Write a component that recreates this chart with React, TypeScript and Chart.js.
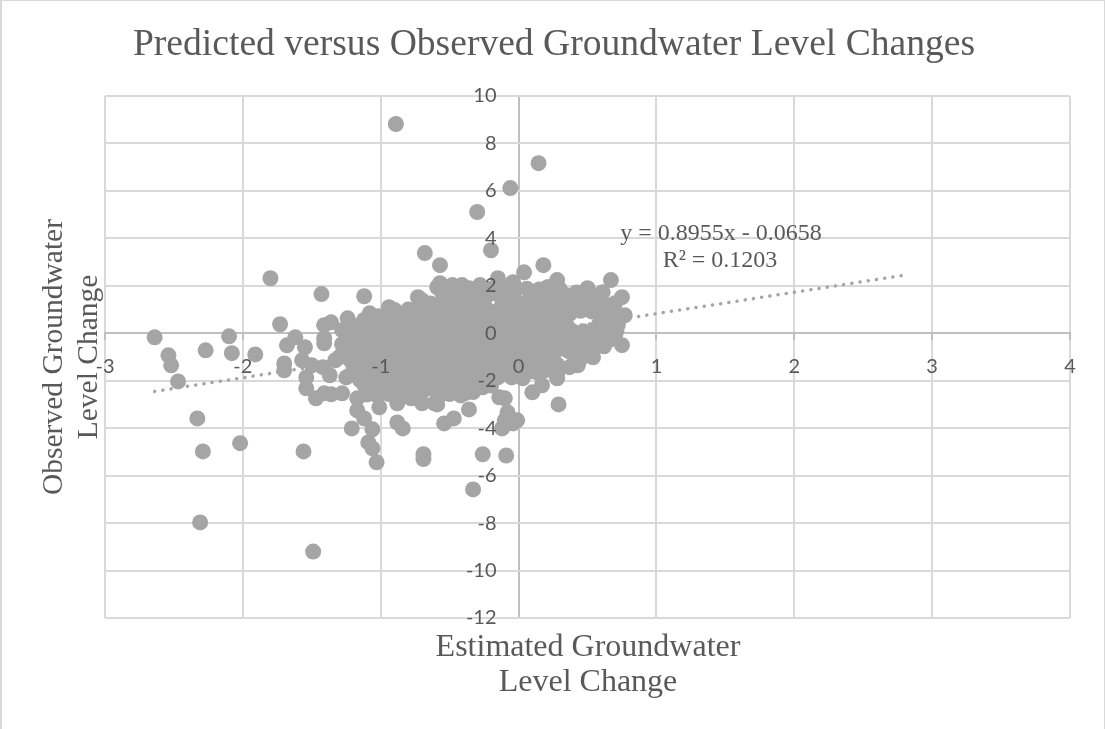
import React, { useEffect, useRef } from "react";
import { Chart, registerables } from "chart.js";

Chart.register(...registerables);

const titleText = "Predicted versus Observed Groundwater Level Changes";
const xTitleLines = ["Estimated Groundwater", "Level Change"];
const yTitleLines = ["Observed Groundwater", "Level Change"];
const equationLines = ["y = 0.8955x - 0.0658", "R² = 0.1203"];

const trendPoints = [[-2.64, -2.45], [2.78, 2.43]];

const outlierPoints = [
  [-2.64,-0.17],[-2.54,-0.93],[-2.52,-1.35],[-2.47,-2.03],[-2.33,-3.59],[-2.29,-4.98],[-2.31,-7.97],[-2.27,-0.72],
  [-2.10,-0.13],[-2.08,-0.84],[-2.02,-4.63],[-1.91,-0.89],[-1.80,2.32],[-1.73,0.38],[-1.56,-4.98],[-1.43,1.65],
  [-1.12,1.56],[-1.49,-9.2],[-0.89,8.82],[0.145,7.17],[-0.06,6.12],[-0.30,5.11],[-0.20,3.5],[-0.68,3.38],
  [-0.57,2.87],[0.18,2.87],[0.67,2.24],[-0.33,-6.58],[-0.26,-5.1],[-0.09,-5.15],[-0.69,-5.1],[-0.69,-5.3],
  [-1.03,-5.44],[0.29,-3.0],[0.75,-0.5],
];

const edgePoints = [
  [-1.68,-0.51],[-1.62,-0.17],[-1.70,-1.27],[-1.70,-1.56],[-1.55,-0.59],[-1.57,-1.14],[-1.50,-1.35],[-1.54,-1.86],
  [-1.54,-2.32],[-1.47,-2.74],[-1.41,-2.53],[-1.36,-2.57],[-1.42,-1.43],[-1.37,-1.77],[-1.41,-0.42],[-1.41,-0.21],
  [-1.41,0.34],[-1.36,0.46],[-1.24,0.63],[-1.28,0.13],[-1.30,-1.01],[-1.33,-1.14],[-1.21,-0.17],[-1.25,-1.86],
  [-1.28,-2.53],[-1.17,-3.25],[-1.21,-4.01],[-1.12,-3.59],[-1.06,-4.05],[-1.09,-4.60],[-1.06,-4.85],[-1.08,0.84],
  [-0.94,1.10],[-0.73,1.52],[-0.70,1.39],[-0.88,-3.76],[-0.84,-4.01],[-0.78,-2.74],[-0.70,-2.95],[-0.61,-2.95],
  [-0.59,1.94],[-1.01,-3.12],[-0.88,-2.95],[-1.17,-2.74],[-0.59,-3.0],[-0.57,2.11],[-0.48,2.03],[-0.41,2.03],
  [-0.28,2.03],[-0.15,2.32],[-0.04,2.15],[0.04,2.57],[0.28,2.24],[0.21,1.94],[0.10,1.73],[0.35,1.60],
  [0.41,1.27],[0.03,-1.90],[0.10,-2.49],[0.17,-2.19],[0.28,-1.90],[-0.14,-2.70],[-0.10,-2.74],[-0.08,-3.33],
  [-0.01,-3.67],[-0.04,-3.80],[-0.12,-4.01],[-0.10,-3.67],[-0.36,-3.21],[-0.47,-3.59],[-0.54,-3.80],[-0.46,-2.49],
  [-0.39,-2.53],[-0.36,-2.11],[-0.26,-2.28],[-0.15,-1.86],[-0.05,-1.86],[0.50,1.90],[0.61,1.73],[0.75,1.52],
  [0.70,1.27],[0.77,0.76],[0.72,0.68],[0.62,-0.55],[0.54,-1.01],[0.43,-1.35],[0.37,-1.43],[0.28,-1.69],
  [0.14,-1.35],[0.22,1.94],
];

const corePointsUpper = [
  [-0.55,1.62],[-0.46,1.55],[-0.37,1.66],[-0.29,1.58],[-0.22,1.63],[-0.13,1.52],[-0.06,1.70],[0.14,1.55],[0.25,1.68],[0.31,1.50],[0.44,1.58],[0.56,1.49],
  [-0.72,1.12],[-0.64,1.25],[-0.55,1.16],[-0.47,1.22],[-0.39,1.10],[-0.30,1.20],[-0.24,1.08],[-0.06,1.15],[0.04,1.24],[0.13,1.12],[0.21,1.22],[0.29,1.15],[0.37,1.10],[0.46,1.20],[0.54,1.12],[0.63,1.18],
  [-1.02,0.72],[-0.94,0.80],[-0.86,0.70],[-0.78,0.82],[-0.70,0.74],[-0.62,0.78],[-0.53,0.70],[-0.45,0.82],[-0.37,0.74],[-0.28,0.80],[-0.20,0.70],[-0.11,0.78],[-0.04,0.72],[0.05,0.80],[0.12,0.74],[0.21,0.78],[0.28,0.72],[0.37,0.82],[0.45,0.95],[0.53,0.92],[0.62,0.74],[0.69,0.80],
  [-1.17,0.30],[-1.09,0.38],[-1.01,0.28],[-0.93,0.36],[-0.85,0.31],[-0.77,0.37],[-0.69,0.29],[-0.61,0.35],[-0.53,0.32],[-0.45,0.38],[-0.37,0.27],[-0.29,0.34],[-0.21,0.30],[-0.13,0.37],[-0.05,0.29],[0.03,0.33],[0.11,0.38],[0.19,0.30],[0.27,0.36],[0.35,0.32],[0.58,0.34],[0.65,0.28],[0.72,0.36],
  [-1.20,-0.05],[-1.13,-0.12],[-1.05,-0.03],[-0.97,-0.10],[-0.89,-0.06],[-0.81,-0.13],[-0.73,-0.04],[-0.65,-0.11],[-0.57,-0.07],[-0.49,-0.02],[-0.41,-0.12],[-0.33,-0.05],[-0.25,-0.10],[-0.17,-0.03],[-0.09,-0.09],[-0.01,-0.05],[0.07,-0.12],[0.15,-0.04],[0.23,-0.08],[0.31,-0.13],[0.39,-0.12],[0.47,-0.12],[0.55,-0.08],[0.63,-0.05],[0.70,-0.11],
];

const corePointsLower = [
  [-1.28,-0.46],[-1.20,-0.53],[-1.12,-0.44],[-1.04,-0.52],[-0.96,-0.47],[-0.88,-0.55],[-0.80,-0.45],[-0.72,-0.50],[-0.64,-0.54],[-0.56,-0.44],[-0.48,-0.51],[-0.40,-0.47],[-0.32,-0.56],[-0.24,-0.46],[-0.16,-0.52],[-0.08,-0.48],[0.00,-0.55],[0.08,-0.45],[0.16,-0.50],[0.24,-0.54],[0.32,-0.46],[0.40,-0.52],[0.48,-0.47],[0.56,-0.53],
  [-1.24,-0.90],[-1.16,-0.97],[-1.08,-0.88],[-1.00,-0.95],[-0.92,-0.90],[-0.84,-0.98],[-0.76,-0.89],[-0.68,-0.94],[-0.60,-0.98],[-0.52,-0.88],[-0.44,-0.95],[-0.36,-0.91],[-0.28,-0.98],[-0.20,-0.90],[-0.12,-0.96],[-0.04,-0.92],[0.04,-0.98],[0.12,-0.89],[0.20,-0.95],[0.40,-0.93],[0.47,-0.97],
  [-1.20,-1.33],[-1.12,-1.40],[-1.04,-1.31],[-0.96,-1.38],[-0.88,-1.34],[-0.80,-1.41],[-0.72,-1.32],[-0.64,-1.37],[-0.56,-1.40],[-0.48,-1.31],[-0.40,-1.38],[-0.32,-1.33],[-0.24,-1.40],[-0.16,-1.32],[-0.08,-1.38],[0.00,-1.34],[0.08,-1.40],[0.20,-1.36],[0.28,-1.32],
  [-1.22,-1.75],[-1.14,-1.82],[-1.06,-1.73],[-0.98,-1.80],[-0.90,-1.76],[-0.82,-1.83],[-0.74,-1.74],[-0.66,-1.79],[-0.58,-1.82],[-0.50,-1.73],[-0.42,-1.80],[-0.34,-1.75],[-0.26,-1.82],[-0.18,-1.74],[-0.10,-1.50],[0.03,-1.52],[0.15,-1.70],
  [-1.12,-2.16],[-1.04,-2.23],[-0.96,-2.14],[-0.88,-2.21],[-0.80,-2.17],[-0.72,-2.24],[-0.64,-2.15],[-0.56,-2.20],[-0.48,-2.23],[-0.40,-2.14],[-0.30,-2.10],[-0.20,-2.20],
  [-1.10,-2.58],[-1.02,-2.65],[-0.94,-2.56],[-0.86,-2.62],[-0.57,-2.60],[-0.50,-2.56],[-0.42,-2.62],[-0.33,-2.48],
];

const fillPointsUpper = [
  [-0.52,1.85],[-0.44,1.82],[-0.36,1.90],[-0.30,1.88],[-0.20,1.88],[-0.12,1.95],[-0.02,1.90],[0.06,1.88],[0.15,1.85],[0.30,1.85],[0.42,1.72],[0.55,1.60],
  [-0.50,1.36],[-0.41,1.42],[-0.33,1.38],[-0.25,1.40],[-0.02,1.38],[0.08,1.42],[0.17,1.36],[0.33,1.38],[0.42,1.44],[0.50,1.36],[0.58,1.42],
  [-0.90,0.98],[-0.80,1.00],[-0.68,0.96],[-0.58,0.98],[-0.50,0.94],[-0.41,1.00],[-0.33,0.96],[-0.25,0.92],[-0.15,0.96],[-0.07,1.00],[0.00,0.94],[0.09,0.98],[0.17,1.00],[0.25,0.94],[0.33,0.98],[0.41,1.02],[0.58,0.96],[0.66,1.00],
  [-1.12,0.56],[-1.04,0.52],[-0.97,0.58],[-0.89,0.54],[-0.81,0.50],[-0.73,0.57],[-0.65,0.53],[-0.57,0.58],[-0.49,0.52],[-0.41,0.55],[-0.33,0.58],[-0.25,0.51],[-0.17,0.55],[-0.09,0.58],[-0.01,0.52],[0.07,0.56],[0.15,0.53],[0.23,0.58],[0.31,0.52],[0.60,0.55],[0.68,0.58],
  [-1.16,0.12],[-1.06,0.15],[-0.97,0.09],[-0.89,0.14],[-0.81,0.10],[-0.73,0.13],[-0.65,0.08],[-0.57,0.14],[-0.49,0.11],[-0.41,0.09],[-0.33,0.15],[-0.25,0.10],[-0.17,0.13],[-0.09,0.08],[-0.01,0.14],[0.07,0.11],[0.15,0.09],[0.23,0.13],[0.31,0.10],[0.39,0.09],[0.47,0.08],[0.55,0.10],[0.63,0.13],[0.71,0.09],
];

const fillPointsLower = [
  [-1.24,-0.28],[-1.16,-0.32],[-1.08,-0.26],[-1.00,-0.30],[-0.92,-0.33],[-0.84,-0.27],[-0.76,-0.31],[-0.68,-0.25],[-0.60,-0.29],[-0.52,-0.34],[-0.44,-0.27],[-0.36,-0.31],[-0.28,-0.26],[-0.20,-0.33],[-0.12,-0.28],[-0.04,-0.30],[0.04,-0.34],[0.12,-0.27],[0.20,-0.31],[0.28,-0.26],[0.36,-0.33],[0.44,-0.29],[0.52,-0.27],[0.60,-0.32],[0.66,-0.28],
  [-1.27,-0.70],[-1.16,-0.74],[-1.08,-0.68],[-1.00,-0.72],[-0.92,-0.75],[-0.84,-0.69],[-0.76,-0.73],[-0.68,-0.67],[-0.60,-0.71],[-0.52,-0.76],[-0.44,-0.69],[-0.36,-0.73],[-0.28,-0.68],[-0.20,-0.75],[-0.12,-0.70],[-0.04,-0.72],[0.04,-0.76],[0.12,-0.69],[0.20,-0.73],[0.28,-0.70],[0.36,-0.74],[0.44,-0.71],[0.52,-0.69],
  [-1.22,-1.13],[-1.14,-1.17],[-1.06,-1.11],[-0.98,-1.15],[-0.90,-1.18],[-0.82,-1.12],[-0.74,-1.16],[-0.66,-1.10],[-0.58,-1.14],[-0.50,-1.19],[-0.42,-1.12],[-0.34,-1.16],[-0.26,-1.11],[-0.18,-1.18],[-0.10,-1.13],[-0.02,-1.15],[0.06,-1.19],[0.14,-1.12],[0.20,-1.16],[0.44,-1.14],
  [-1.18,-1.55],[-1.10,-1.59],[-1.02,-1.53],[-0.94,-1.57],[-0.86,-1.60],[-0.78,-1.54],[-0.70,-1.58],[-0.62,-1.52],[-0.54,-1.56],[-0.46,-1.61],[-0.38,-1.54],[-0.30,-1.58],[-0.22,-1.53],[-0.14,-1.60],[-0.05,-1.55],[0.10,-1.60],[0.20,-1.55],
  [-1.15,-1.97],[-1.08,-2.00],[-1.00,-1.95],[-0.92,-1.99],[-0.84,-2.02],[-0.76,-1.96],[-0.68,-2.00],[-0.60,-1.94],[-0.52,-1.98],[-0.44,-2.03],[-0.36,-1.96],[-0.28,-2.00],[-0.20,-1.95],
  [-1.08,-2.38],[-1.00,-2.42],[-0.92,-2.36],[-0.84,-2.40],[-0.76,-2.43],[-0.68,-2.37],[-0.60,-2.41],[-0.50,-2.38],[-0.42,-2.42],[-0.34,-2.36],
];

const scatterPoints = [
  ...outlierPoints,
  ...edgePoints,
  ...corePointsUpper,
  ...corePointsLower,
  ...fillPointsUpper,
  ...fillPointsLower,
];

const GRID = "#D9D9D9";
const AXIS = "#BFBFBF";
const TEXT = "#595959";
const MARK = "#A5A5A5";
const SERIF = '"Liberation Serif", "Times New Roman", serif';

const textPlugin = {
  id: "chartText",
  beforeDraw(chart: any) {
    const c = chart.ctx;
    c.save();
    c.fillStyle = "#ffffff";
    c.fillRect(0, 0, chart.width, chart.height);
    c.fillStyle = GRID;
    c.fillRect(0, 0, 2, chart.height);
    c.fillRect(0, 0, chart.width, 1);
    c.fillRect(chart.width - 1, 0, 1, chart.height);
    c.restore();
  },
  afterDraw(chart: any) {
    const c = chart.ctx;
    c.save();
    c.fillStyle = TEXT;
    c.textAlign = "center";
    c.textBaseline = "alphabetic";
    c.font = `37.6px ${SERIF}`;
    c.fillText(titleText, 554, 55);
    c.font = `32px ${SERIF}`;
    c.fillText(xTitleLines[0], 588, 656);
    c.fillText(xTitleLines[1], 588, 691);
    c.font = `29.5px ${SERIF}`;
    c.save();
    c.translate(62, 357);
    c.rotate(-Math.PI / 2);
    c.fillText(yTitleLines[0], 0, 0);
    c.restore();
    c.save();
    c.translate(97, 357);
    c.rotate(-Math.PI / 2);
    c.fillText(yTitleLines[1], 0, 0);
    c.restore();
    c.font = `24px ${SERIF}`;
    c.fillText(equationLines[0], 721, 240);
    c.fillText(equationLines[1], 720, 267);
    c.restore();
  },
};

export default function App() {
  const ref = useRef<HTMLCanvasElement>(null);
  useEffect(() => {
    const chart = new Chart(ref.current!, {
      type: "scatter",
      data: {
        datasets: [
          {
            data: scatterPoints.map(([x, y]) => ({ x, y })),
            backgroundColor: MARK,
            borderColor: MARK,
            pointRadius: 8,
            pointBorderWidth: 0,
          },
          {
            type: "line",
            data: trendPoints.map(([x, y]) => ({ x, y })),
            borderColor: MARK,
            borderWidth: 3.5,
            borderDash: [0.1, 8.2],
            borderCapStyle: "round",
            pointRadius: 0,
            fill: false,
            tension: 0,
          },
        ],
      },
      options: {
        responsive: false,
        animation: false,
        layout: { padding: { left: 105, right: 35, top: 96, bottom: 111 } },
        plugins: { legend: { display: false }, title: { display: false }, tooltip: { enabled: false } },
        scales: {
          x: {
            type: "linear",
            position: { y: 0 },
            min: -3,
            max: 4,
            ticks: {
              stepSize: 1,
              color: TEXT,
              font: { family: "Lato, Carlito, sans-serif", size: 20 },
              padding: 15,
              maxRotation: 0,
              z: 2,
              autoSkip: false,
            },
            grid: {
              color: (ctx: any) => (ctx.tick && ctx.tick.value === 0 ? AXIS : GRID),
              lineWidth: 2,
              tickLength: 6,
              tickColor: AXIS,
            },
            border: { color: AXIS, width: 2 },
          },
          y: {
            type: "linear",
            position: { x: -0.16 },
            min: -12,
            max: 10,
            ticks: {
              stepSize: 2,
              color: TEXT,
              font: { family: "Lato, Carlito, sans-serif", size: 20 },
              padding: 0,
              z: 2,
              autoSkip: false,
            },
            grid: { color: GRID, lineWidth: 2, drawTicks: false },
            border: { display: false },
          },
        },
      },
      plugins: [textPlugin],
    } as any);
    return () => chart.destroy();
  }, []);
  return (
    <canvas
      ref={ref}
      width={1105}
      height={729}
      style={{ position: "absolute", left: 0, top: 0, display: "block" }}
    />
  );
}
